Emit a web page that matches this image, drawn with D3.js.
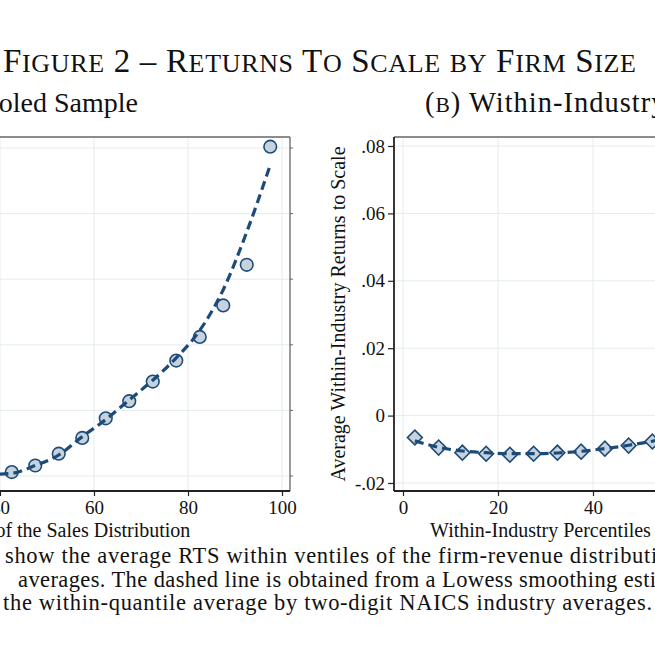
<!DOCTYPE html>
<html>
<head>
<meta charset="utf-8">
<script src="https://cdn.jsdelivr.net/npm/d3@7"></script>
<style>
  html, body { margin: 0; padding: 0; background: #fff; overflow: hidden; }
  text { font-family: "Liberation Serif", "Times New Roman", serif; fill: #111; }
</style>
</head>
<body>
<script>
// ventile midpoints
var pctl = [2.5, 7.5, 12.5, 17.5, 22.5, 27.5, 32.5, 37.5, 42.5, 47.5,
            52.5, 57.5, 62.5, 67.5, 72.5, 77.5, 82.5, 87.5, 92.5, 97.5];

// (a) pooled sample
var pooledRTS    = [0.930, 0.918, 0.909, 0.904, 0.901, 0.900, 0.900, 0.901, 0.903, 0.908,
                    0.917, 0.929, 0.944, 0.957, 0.972, 0.988, 1.006, 1.030, 1.061, 1.151];
var pooledLowess = [0.925, 0.915, 0.908, 0.903, 0.901, 0.900, 0.900, 0.901, 0.902, 0.908,
                    0.916, 0.930, 0.943, 0.958, 0.973, 0.990, 1.011, 1.042, 1.086, 1.137];
var pooledYTicks  = [0.90, 0.95, 1.00, 1.05, 1.10, 1.15];
var pooledYLabels = [".9", ".95", "1", "1.05", "1.1", "1.15"];

// (b) within-industry
var withinRTS    = [-0.0065, -0.0095, -0.0110, -0.0113, -0.0116, -0.0113, -0.0110, -0.0107, -0.0098, -0.0089,
                    -0.0077, -0.0060, -0.0040, -0.0010, 0.0030, 0.0080, 0.0150, 0.0250, 0.0400, 0.0780];
var withinLowess = [-0.0075, -0.0094, -0.0105, -0.0110, -0.0113, -0.0113, -0.0111, -0.0106, -0.0098, -0.0088,
                    -0.0076, -0.0060, -0.0038, -0.0010, 0.0030, 0.0085, 0.0160, 0.0260, 0.0420, 0.0650];
var withinYTicks  = [-0.02, 0, 0.02, 0.04, 0.06, 0.08];
var withinYLabels = ["-.02", "0", ".02", ".04", ".06", ".08"];

var xTicks = [0, 20, 40, 60, 80, 100];

var navy = "#1d4b78",
    fillc = "#c6d2de",
    grid = "#e4ecef";

var svg = d3.select("body")
   .append("svg")
   .attr("width", 655)
   .attr("height", 655);

svg.append("rect").attr("width", 655).attr("height", 655).attr("fill", "#fff");

// lower-case runs are drawn as small capitals
function smallCaps(sel, str, big, small) {
    var parts = str.match(/[a-z]+|[^a-z]+/g);
    parts.forEach(function(p) {
        var lower = /^[a-z]+$/.test(p);
        sel.append("tspan")
          .style("font-size", (lower ? small : big) + "px")
          .text(lower ? p.toUpperCase() : p);
    });
}

var title = svg.append("text")
   .attr("x", 3).attr("y", 72)
   .attr("textLength", 633)
   .attr("lengthAdjust", "spacing");
smallCaps(title, "Figure 2 \u2013 Returns To Scale by Firm Size", 33, 26);

var subA = svg.append("text")
   .attr("x", 138).attr("y", 112)
   .attr("text-anchor", "end")
   .style("font-size", "28px");
smallCaps(subA, "(a)", 28, 21);
subA.append("tspan").text(" Pooled Sample");

var subB = svg.append("text")
   .attr("x", 425).attr("y", 112)
   .style("font-size", "28.5px")
   .style("letter-spacing", "1px");
smallCaps(subB, "(b)", 28.5, 21.5);
subB.append("tspan").text(" Within-Industry Percentiles");

function panel(opt) {
    var x = d3.scaleLinear().domain([0, 100]).range(opt.xr);
    var y = d3.scaleLinear().domain(opt.yd).range(opt.yr);
    var g = svg.append("g");
    var top = 137, bottom = 491;

    // gridlines
    g.selectAll(".hg").data(opt.yticks).enter().append("line")
      .attr("x1", opt.frame[0]).attr("x2", opt.frame[1])
      .attr("y1", function(d) { return y(d); }).attr("y2", function(d) { return y(d); })
      .attr("stroke", grid).attr("stroke-width", 1);
    g.selectAll(".vg").data(xTicks).enter().append("line")
      .attr("y1", top).attr("y2", bottom)
      .attr("x1", function(d) { return x(d); }).attr("x2", function(d) { return x(d); })
      .attr("stroke", grid).attr("stroke-width", 1);

    // frame, top and right
    g.append("line").attr("x1", opt.frame[0]).attr("x2", opt.frame[1]).attr("y1", top).attr("y2", top)
      .attr("stroke", "#666").attr("stroke-width", 1.3);
    g.append("line").attr("x1", opt.frame[1]).attr("x2", opt.frame[1]).attr("y1", top).attr("y2", bottom)
      .attr("stroke", "#666").attr("stroke-width", 1.3);
    g.selectAll(".rt").data(opt.yticks).enter().append("line")
      .attr("x1", opt.frame[1]).attr("x2", opt.frame[1] + 3)
      .attr("y1", function(d) { return y(d); }).attr("y2", function(d) { return y(d); })
      .attr("stroke", "#666").attr("stroke-width", 1);

    // axes
    var xa = g.append("g").attr("transform", "translate(0," + bottom + ")")
      .call(d3.axisBottom(x).tickValues(xTicks).tickSize(5).tickSizeOuter(0).tickPadding(5));
    var ya = g.append("g").attr("transform", "translate(" + opt.frame[0] + ",0)")
      .call(d3.axisLeft(y).tickValues(opt.yticks).tickSize(6).tickSizeOuter(0).tickPadding(3)
        .tickFormat(function(d, i) { return opt.ylabels[i]; }));
    ya.selectAll(".domain").remove();
    xa.selectAll(".domain").remove();
    [xa, ya].forEach(function(a) {
        a.selectAll("line").attr("stroke", "#222").attr("stroke-width", 1.2);
        a.selectAll("text").style("font-size", "19px").style("font-family", "Liberation Serif").attr("fill", "#111");
    });
    g.append("line").attr("x1", opt.frame[0]).attr("x2", opt.frame[1]).attr("y1", bottom).attr("y2", bottom)
      .attr("stroke", "#222").attr("stroke-width", 1.8);
    g.append("line").attr("x1", opt.frame[0]).attr("x2", opt.frame[0]).attr("y1", top).attr("y2", bottom)
      .attr("stroke", "#222").attr("stroke-width", 1.8);

    // markers
    var sym = d3.symbol().type(opt.shape).size(opt.size);
    g.selectAll(".pt").data(opt.vals).enter().append("path")
      .attr("d", sym)
      .attr("transform", function(d, i) { return "translate(" + x(pctl[i]) + "," + y(d) + ")" + (opt.rot ? " rotate(45)" : ""); })
      .attr("fill", fillc).attr("stroke", navy).attr("stroke-width", 1.6);

    // lowess line
    var line = d3.line().curve(d3.curveMonotoneX)
      .x(function(d, i) { return x(pctl[i]); }).y(function(d) { return y(d); });
    g.append("path").datum(opt.lowess)
      .attr("d", line)
      .attr("fill", "none").attr("stroke", navy).attr("stroke-width", 3.2)
      .attr("stroke-dasharray", "9,5");

    // axis titles
    g.append("text")
      .attr("x", (opt.frame[0] + opt.frame[1]) / 2).attr("y", 537)
      .attr("text-anchor", "middle")
      .style("font-size", "20px")
      .text(opt.xtitle);
    g.append("text")
      .attr("transform", "translate(" + opt.ytx + "," + (top + bottom) / 2 + ") rotate(-90)")
      .attr("text-anchor", "middle")
      .style("font-size", "20px")
      .text(opt.ytitle);
}

panel({
    xr: [-188, 282], frame: [-197, 290],
    yd: [0.90, 1.15], yr: [476, 148],
    yticks: pooledYTicks, ylabels: pooledYLabels,
    vals: pooledRTS, lowess: pooledLowess,
    shape: d3.symbolCircle, size: 125, rot: false,
    xtitle: "Percentiles of the Sales Distribution",
    ytitle: "Average Returns to Scale", ytx: -250
});

panel({
    xr: [403, 878], frame: [394, 887],
    yd: [-0.02, 0.08], yr: [483, 146],
    yticks: withinYTicks, ylabels: withinYLabels,
    vals: withinRTS, lowess: withinLowess,
    shape: d3.symbolSquare, size: 110, rot: true,
    xtitle: "Within-Industry Percentiles of the Sales Distribution",
    ytitle: "Average Within-Industry Returns to Scale", ytx: 345
});

// caption
var captionLines = [
    { x: 5,  y: 563, len: 676, t: "show the average RTS within ventiles of the firm-revenue distribution" },
    { x: 18, y: 587, len: 703, t: "averages. The dashed line is obtained from a Lowess smoothing estimation" },
    { x: 3,  y: 610, len: 649, t: "the within-quantile average by two-digit NAICS industry averages." }
];
svg.selectAll(".cap").data(captionLines).enter().append("text")
   .attr("x", function(d) { return d.x; })
   .attr("y", function(d) { return d.y; })
   .attr("textLength", function(d) { return d.len; })
   .attr("lengthAdjust", "spacing")
   .style("font-size", "22.5px")
   .text(function(d) { return d.t; });
</script>
</body>
</html>
